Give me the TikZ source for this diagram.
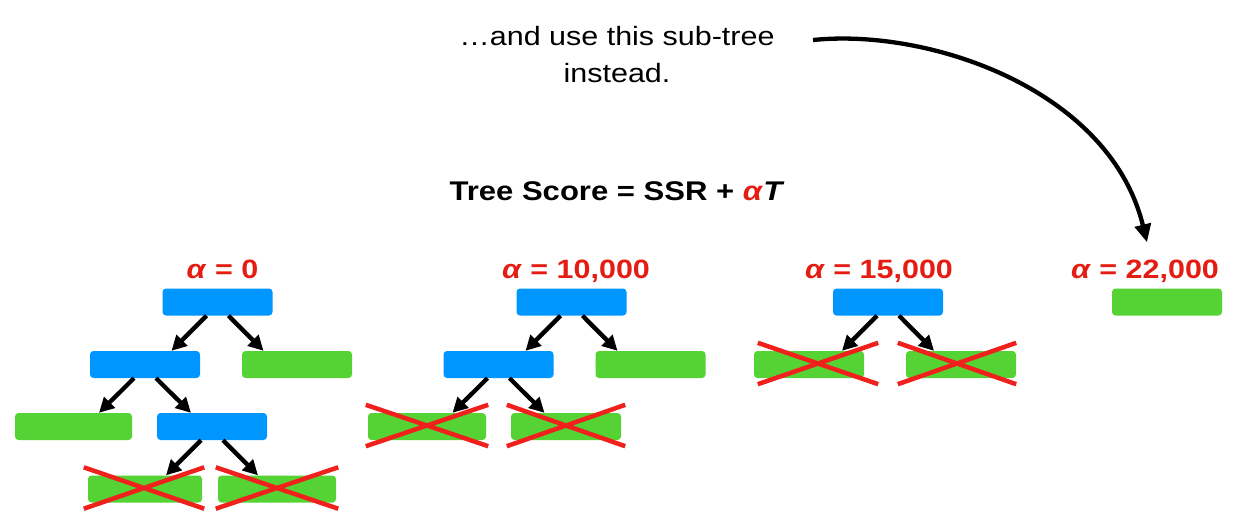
\documentclass[tikz,border=0pt]{standalone}
\usepackage{fontspec}
\setmainfont[FakeStretch=1.15]{Liberation Sans}
\usetikzlibrary{arrows.meta,calc}
\definecolor{splitblue}{RGB}{0,150,255}
\definecolor{leafgreen}{RGB}{85,211,52}
\definecolor{alphared}{RGB}{228,28,18}
\definecolor{crossred}{RGB}{240,32,28}
\tikzset{inner sep=0pt}

\begin{document}
\begin{tikzpicture}[
            x=1pt, y=-1pt,
            split/.style={fill=splitblue,rounded corners=3.5pt,minimum width=110pt,minimum height=27pt},
            leaf/.style={fill=leafgreen,rounded corners=3.5pt,minimum width=110pt,minimum height=27pt},
            alphalabel/.style={anchor=base,text=alphared,font=\fontsize{26.5}{30}\selectfont\bfseries},
            branch/.style={draw,line width=4.3pt,-{Triangle[length=15pt,width=15pt]}},
            cross/.style={draw=crossred,line width=4.5pt}
            ]
            \useasboundingbox (0,0) rectangle (1234,528);
            \node[align=center,font=\fontsize{26.5}{37}\selectfont] (note) at (617,55) {\dots and use this sub-tree\\instead.};
            \node[anchor=base,font=\fontsize{27}{32}\selectfont\bfseries] (score) at (617,200) {Tree Score = SSR + \textcolor{alphared}{\textit{α}}\textit{T}};
            \node[alphalabel] (al1) at (222.5,278) {\textit{α} = 0};
            \node[alphalabel] (al2) at (576,278) {\textit{α} = 10,000};
            \node[alphalabel] (al3) at (879,278) {\textit{α} = 15,000};
            \node[alphalabel] (al4) at (1145,278) {\textit{α} = 22,000};
            \node[split] (r1) at (217.5,302) {};
            \node[split] (a1) at (145,364.5) {};
            \node[leaf] (b1) at (297,364.5) {};
            \node[leaf,minimum width=117pt] (c1) at (73.5,426.5) {};
            \node[split] (d1) at (212,426.5) {};
            \node[leaf,minimum width=114pt] (e1) at (145,489) {};
            \node[leaf,minimum width=118pt] (f1) at (277,489) {};
            \node[split] (r2) at (571.5,302) {};
            \node[split] (a2) at (498.5,364.5) {};
            \node[leaf] (b2) at (650.5,364.5) {};
            \node[leaf,minimum width=118pt] (c2) at (427,426.5) {};
            \node[leaf] (d2) at (566,426.5) {};
            \node[split] (r3) at (888,302) {};
            \node[leaf] (a3) at (809,364.5) {};
            \node[leaf] (b3) at (961,364.5) {};
            \node[leaf] (r4) at (1167,302) {};
            \draw[branch] ([xshift=-11pt]r1.south) -- ([xshift=-46pt]r1.south |- a1.north);
            \draw[branch] ([xshift=11pt]r1.south) -- ([xshift=46pt]r1.south |- b1.north);
            \draw[branch] ([xshift=-11pt]a1.south) -- ([xshift=-46pt]a1.south |- c1.north);
            \draw[branch] ([xshift=11pt]a1.south) -- ([xshift=46pt]a1.south |- d1.north);
            \draw[branch] ([xshift=-11pt]d1.south) -- ([xshift=-46pt]d1.south |- e1.north);
            \draw[branch] ([xshift=11pt]d1.south) -- ([xshift=46pt]d1.south |- f1.north);
            \draw[branch] ([xshift=-11pt]r2.south) -- ([xshift=-46pt]r2.south |- a2.north);
            \draw[branch] ([xshift=11pt]r2.south) -- ([xshift=46pt]r2.south |- b2.north);
            \draw[branch] ([xshift=-11pt]a2.south) -- ([xshift=-46pt]a2.south |- c2.north);
            \draw[branch] ([xshift=11pt]a2.south) -- ([xshift=46pt]a2.south |- d2.north);
            \draw[branch] ([xshift=-11pt]r3.south) -- ([xshift=-46pt]r3.south |- a3.north);
            \draw[branch] ([xshift=11pt]r3.south) -- ([xshift=46pt]r3.south |- b3.north);
            \draw[cross] ($(e1.north west)+(-4,-8)$) -- ($(e1.south east)+(2,6)$) ($(e1.south west)+(-4,6)$) -- ($(e1.north east)+(2,-8)$);
            \draw[cross] ($(f1.north west)+(-2,-8)$) -- ($(f1.south east)+(2,6)$) ($(f1.south west)+(-2,6)$) -- ($(f1.north east)+(2,-8)$);
            \draw[cross] ($(c2.north west)+(-2,-8)$) -- ($(c2.south east)+(2,6)$) ($(c2.south west)+(-2,6)$) -- ($(c2.north east)+(2,-8)$);
            \draw[cross] ($(d2.north west)+(-4,-8)$) -- ($(d2.south east)+(4,6)$) ($(d2.south west)+(-4,6)$) -- ($(d2.north east)+(4,-8)$);
            \draw[cross] ($(a3.north west)+(4,-8)$) -- ($(a3.south east)+(14,6)$) ($(a3.south west)+(4,6)$) -- ($(a3.north east)+(14,-8)$);
            \draw[cross] ($(b3.north west)+(-8,-8)$) -- ($(b3.south east)+(0,6)$) ($(b3.south west)+(-8,6)$) -- ($(b3.north east)+(0,-8)$);
            \coordinate (from) at (813,40);
            \draw[line width=4.3pt,-{Triangle[length=18pt,width=16pt]}] (from) .. controls (930,28) and (1110,90) .. ([xshift=2pt,yshift=17pt]al4.north);
        \end{tikzpicture}
\end{document}
